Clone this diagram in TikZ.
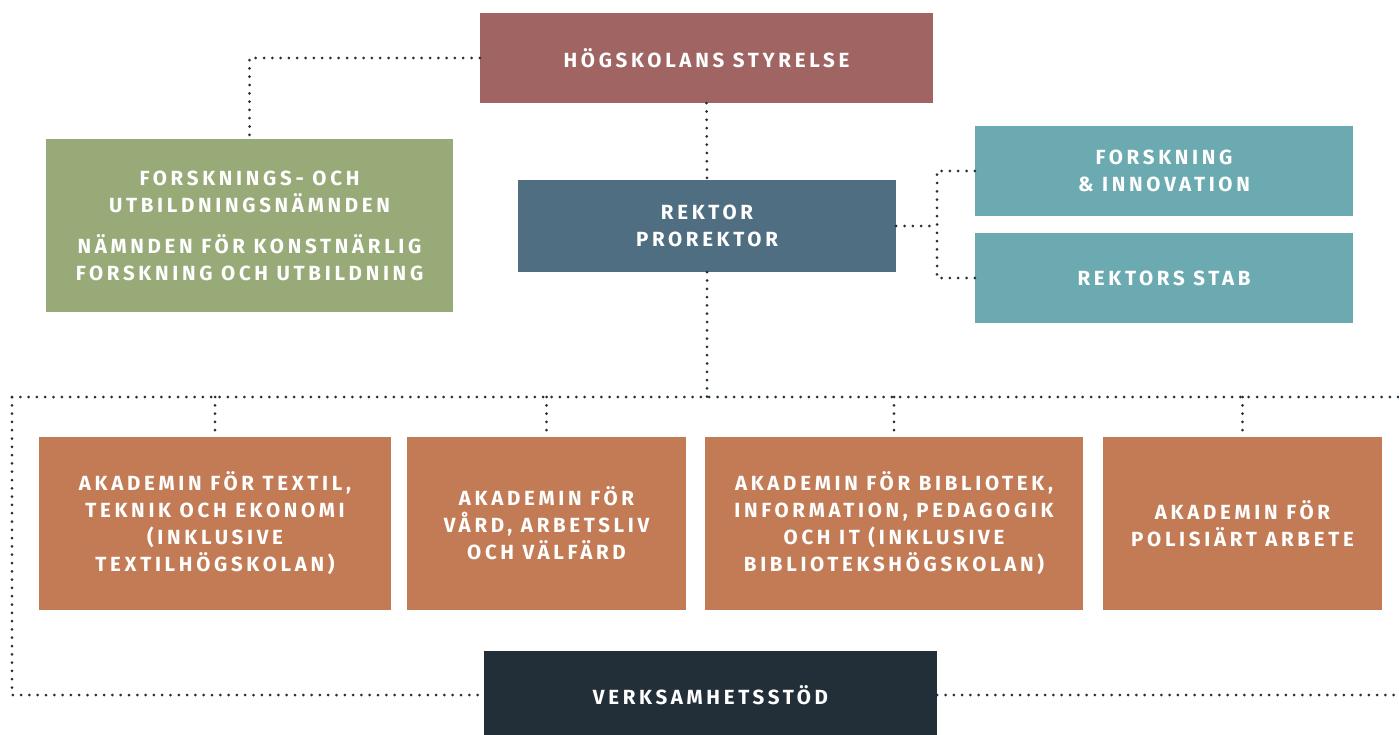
\documentclass[tikz,border=0pt]{standalone}
\usepackage{fontspec}
\setmainfont{Fira Sans}[LetterSpace=18]
\usetikzlibrary{positioning}

\definecolor{styrc}{HTML}{A06563}
\definecolor{namndc}{HTML}{97AA78}
\definecolor{rektc}{HTML}{4F6E82}
\definecolor{stabc}{HTML}{6CAAB2}
\definecolor{akadc}{HTML}{C27B55}
\definecolor{stodc}{HTML}{222E38}

\begin{document}
\begin{tikzpicture}[x=1pt,y=-1pt,
  box/.style={fill=#1,text=white,align=center,inner sep=0pt,
    font=\bfseries\fontsize{20.5}{27}\selectfont},
  link/.style={draw=stodc,line width=3pt,line cap=round,
    dash pattern=on 0pt off 8.3pt}]
  \useasboundingbox (0,0) rectangle (1399,735);

  % top of the tree
  \node [box=styrc, minimum width=453pt, minimum height=90pt] (styr) at (706.5,58) {HÖGSKOLANS STYRELSE};
  \node [box=namndc, minimum width=407pt, minimum height=173pt] (namnd) at (249.5,225.5)
    {FORSKNINGS- OCH\\UTBILDNINGSNÄMNDEN\\[14pt]NÄMNDEN FÖR KONSTNÄRLIG\\FORSKNING OCH UTBILDNING};
  \node [box=rektc, minimum width=378pt, minimum height=92pt] (rekt) at (707,226) {REKTOR\\PROREKTOR};
  \node [box=stabc, minimum width=378pt, minimum height=90pt] (forsk) at (1164,171) {FORSKNING\\\& INNOVATION};
  \node [box=stabc, minimum width=378pt, minimum height=90pt] (stab) at (1164,278) {REKTORS STAB};

  % academies
  \node [box=akadc, minimum width=352pt, minimum height=173pt] (akad1) at (215,523.5)
    {AKADEMIN FÖR TEXTIL,\\TEKNIK OCH EKONOMI\\(INKLUSIVE\\TEXTILHÖGSKOLAN)};
  \node [box=akadc, minimum width=279pt, minimum height=173pt] (akad2) at (546.5,523.5)
    {AKADEMIN FÖR\\VÅRD, ARBETSLIV\\OCH VÄLFÄRD};
  \node [box=akadc, minimum width=378pt, minimum height=173pt] (akad3) at (894,523.5)
    {AKADEMIN FÖR BIBLIOTEK,\\INFORMATION, PEDAGOGIK\\OCH IT (INKLUSIVE\\BIBLIOTEKSHÖGSKOLAN)};
  \node [box=akadc, minimum width=279pt, minimum height=173pt] (akad4) at (1242.5,523.5)
    {AKADEMIN FÖR\\POLISIÄRT ARBETE};

  \node [box=stodc, minimum width=453pt, minimum height=88pt] (stod) at (710.5,695) {VERKSAMHETSSTÖD};

  % dotted links
  \coordinate (bus) at (707,397);
  \coordinate (busL) at (12,397);
  \coordinate (busR) at (1399,397);
  \coordinate (fork) at (937,226);
  \coordinate (edgeR) at (1399,695);

  \draw [link] (styr.west) -| (namnd.north);
  \draw [link] (styr.south) -- (rekt.north);
  \draw [link] (rekt.east) -- (fork);
  \draw [link] (forsk.west) -| (fork) |- (stab.west);
  \draw [link] (rekt.south) -- (bus);
  \draw [link] (busL) -- (busR);
  \foreach \a in {1,2,3,4}{
    \draw [link] (akad\a.north |- bus) -- (akad\a.north);
    };
  \draw [link] (busL) |- (stod.west);
  \draw [link] (stod.east) -- (edgeR);
\end{tikzpicture}
\end{document}
